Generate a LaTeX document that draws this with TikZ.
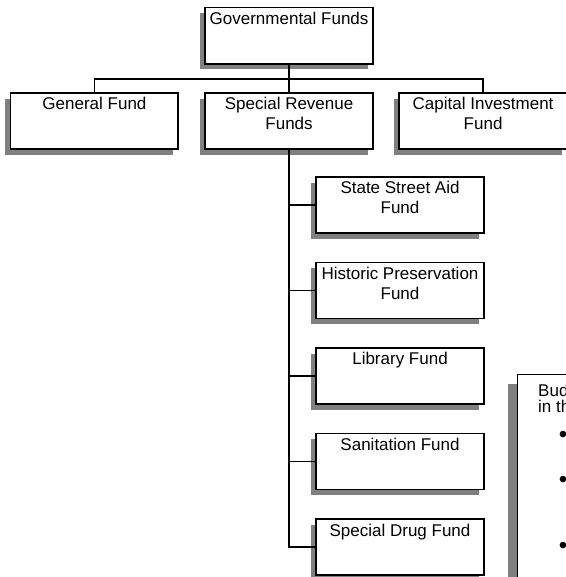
\documentclass[tikz,border=0pt]{standalone}
\usepackage{fontspec}
\setmainfont{Liberation Sans}
\usetikzlibrary{shadows}

\tikzset{
  fund/.style={draw,line width=1.9pt,fill=white,minimum width=5.9cm,minimum height=1.97cm,
    drop shadow={shadow xshift=-0.18cm,shadow yshift=-0.2cm,fill=black!50,opacity=1}},
  fundname/.style={anchor=north,align=center,inner sep=3pt,yshift=-2.5pt},
  link/.style={line width=1.9pt},
}

\begin{document}
\begin{tikzpicture}[font=\fontsize{17}{19.5}\selectfont]
  \useasboundingbox (0,0) rectangle (19.89,20.28);

  % top of the chart and the three fund groups
  \node[fund,label={[fundname]north:Governmental Funds}] (gov) at (10.16,19.03) {};
  \node[fund,label={[fundname]north:General Fund}] (general) at (3.32,16.03) {};
  \node[fund,label={[fundname]north:Special Revenue\\Funds}] (special) at (10.16,16.03) {};
  \node[fund,label={[fundname]north:Capital Investment\\Fund}] (capital) at (16.98,16.03) {};
  \coordinate (bar) at (10.16,17.50);

  % special revenue funds, one under the other
  \foreach \name/\y/\txt in {state/13.08/State Street Aid\\Fund,
                             historic/10.07/Historic Preservation\\Fund,
                             library/7.07/Library Fund,
                             sanitation/4.06/Sanitation Fund,
                             drug/1.05/Special Drug Fund}
    \node[fund,label={[fundname]north:\txt}] (\name) at (14.06,\y) {};

  \draw[link] (general.north) |- (bar) -| (capital.north);
  \draw[link] (gov.south) -- (special.north);
  \foreach \name in {state,historic,library,sanitation,drug}
    \draw[link] (special.south) |- (\name.west);

  % budget note, runs off the right edge
  \begin{scope}
    \clip (0,0) rectangle (19.89,20.28);
    \node[draw,line width=1.1pt,fill=white,anchor=north west,minimum width=4cm,minimum height=9cm,
      drop shadow={shadow xshift=-0.32cm,shadow yshift=-0.32cm,fill=black!50,opacity=1}] (budget) at (18.17,7.13) {};
    \node[anchor=base west,inner sep=0pt] (budget-l1) at (18.91,6.33) {Budgets};
    \node[anchor=base west,inner sep=0pt] (budget-l2) at (18.91,5.77) {in the};
    \foreach \y [count=\i] in {4.92,3.34,1.02}
      \node[inner sep=0pt,font=\fontsize{24}{24}\selectfont] (bullet\i) at (19.79,\y) {\textbullet};
  \end{scope}
\end{tikzpicture}
\end{document}
